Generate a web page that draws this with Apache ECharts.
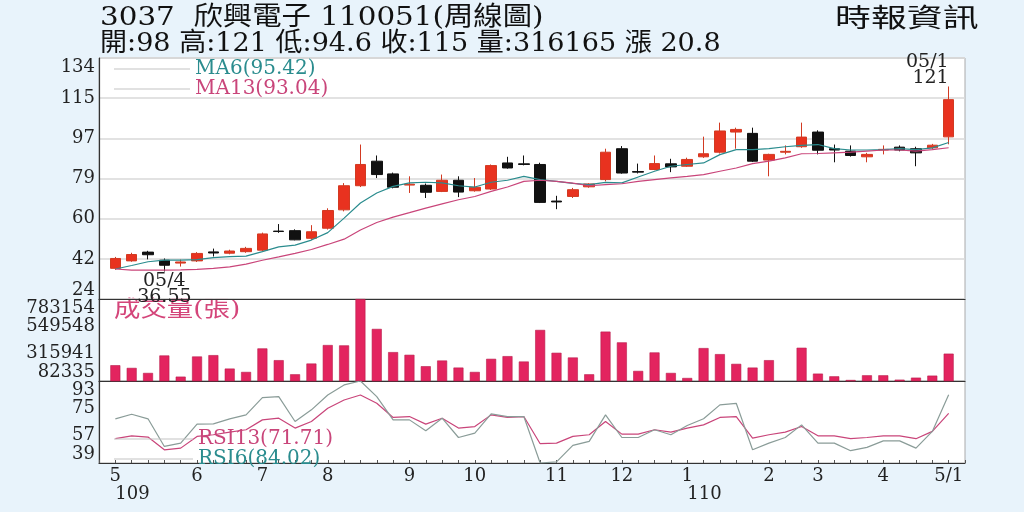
<!DOCTYPE html>
<html>
<head>
<meta charset="utf-8">
<script src="https://cdn.jsdelivr.net/npm/echarts@6/dist/echarts.min.js"></script>
<style>
html,body{margin:0;padding:0;background:#e8f3fb;}
#c{width:1024px;height:512px;}
</style>
</head>
<body>
<div id="c"></div>
<script>
// ---- data ----
const weeks = ['04/27','05/04','05/11','05/18','05/25','06/01','06/08','06/15','06/22','06/29',
  '07/06','07/13','07/20','07/27','08/03','08/10','08/17','08/24','08/31','09/07',
  '09/14','09/21','09/28','10/05','10/12','10/19','10/26','11/02','11/09','11/16',
  '11/23','11/30','12/07','12/14','12/21','12/28','01/04','01/11','01/18','01/25',
  '02/01','02/15','02/22','03/01','03/08','03/15','03/22','03/29','04/05','04/12',
  '04/19','04/26'];
const opens = [38.0,41.4,45.4,41.7,40.4,41.4,45.5,44.9,45.6,46.3,
  55.0,55.2,51.7,56.3,64.7,75.7,86.9,81.1,76.0,75.9,
  73.1,78.2,73.4,74.2,86.1,85.7,85.4,68.7,70.8,75.2,
  78.5,92.6,82.2,83.1,85.7,84.6,88.9,91.0,100.2,99.6,
  87.4,91.0,93.5,100.2,92.6,91.5,88.9,92.0,93.3,92.6,
  93.0,98];
const closes = [42.5,44.3,44.2,39.4,40.9,44.8,45.0,45.9,47.1,53.7,
  54.8,51.0,54.7,64.4,75.7,85.4,80.8,75.0,76.4,72.7,
  78.2,72.8,75.0,84.9,83.8,85.4,68.1,68.3,73.9,76.5,
  91.0,81.5,81.9,85.8,84.3,87.7,90.3,100.7,101.4,86.9,
  90.0,91.4,97.9,91.9,92.0,89.5,90.0,92.3,92.0,90.7,
  94.2,115];
const lows = [37.3,41.0,42.1,36.55,38.8,40.9,43.4,44.4,45.1,45.8,
  54.2,50.8,51.0,55.7,64.0,75.1,79.2,74.5,72.4,70.1,
  72.8,70.5,73.0,73.8,83.5,85.0,67.8,65.0,70.1,74.8,
  77.7,81.2,81.3,82.8,81.9,84.3,88.4,90.4,92.6,86.5,
  80.0,90.0,93.0,90.0,86.4,89.0,86.4,90.0,91.4,84.6,
  92.4,94.6];
const highs = [43.2,45.1,46.0,42.5,42.0,45.4,47.0,46.5,47.8,54.3,
  58.2,55.8,57.7,65.4,76.9,94.5,89.5,81.7,80.0,76.7,
  80.8,80.0,79.2,85.4,88.9,89.5,86.2,71.1,74.7,76.8,
  92.6,93.8,85.8,89.5,88.0,88.5,98.1,104.5,102.2,102.2,
  90.3,94.1,104.5,101.0,94.5,94.1,90.7,94.1,94.1,93.5,
  94.8,121];
const ma6 = [37.7,39.3,41.0,41.7,41.7,42.0,42.9,43.3,43.6,45.6,
  47.8,48.6,50.9,54.3,60.9,67.8,72.4,75.4,77.0,77.3,
  77.0,75.7,75.1,77.3,78.2,80.0,78.5,77.7,76.8,76.2,
  77.2,77.0,79.7,82.3,84.6,85.4,86.1,89.9,92.2,92.2,
  92.6,93.5,94.1,94.5,92.6,92.0,92.0,92.2,92.6,92.2,
  93.0,95.42];
const ma13 = [37.7,37.2,37.2,37.2,37.3,37.5,38.0,38.7,39.9,41.7,
  43.2,44.8,46.6,48.9,51.3,55.5,58.9,61.4,63.4,65.5,
  67.4,69.3,70.8,73.1,75.1,77.7,78.2,77.7,76.9,75.7,
  76.2,76.6,77.7,78.5,79.3,80.0,80.8,82.3,83.8,85.8,
  86.9,88.4,90.3,90.4,90.7,91.0,91.5,92.0,92.0,91.5,
  92.2,93.04];
const volumes = [217300,194300,151300,300600,119700,292000,303500,188600,159900,360900,
  260400,139800,231700,389700,386800,783154,527500,329300,306400,208700,
  257500,197200,159900,271900,294900,248900,518900,323600,283400,139800,
  504600,412600,168500,326500,151300,108200,363800,312100,228800,197200,
  260400,84500,366700,145500,122500,91000,131200,131200,93800,111000,
  128300,316165];
const rsi6 = [68.1,71.1,68.1,49.9,52.1,64.6,64.8,68.1,70.7,82.1,
  82.7,66.3,74.0,83.8,90.4,93.0,82.7,67.4,67.4,60.2,
  68.5,55.8,58.7,71.4,69.6,69.6,39.0,39.7,50.6,53.2,
  70.7,55.8,55.8,60.9,57.6,63.7,68.1,77.3,78.3,47.7,
  52.1,55.8,64.1,52.1,52.1,47.1,49.3,53.6,53.6,48.8,
  59.8,84.02];
const rsi13 = [55.0,56.9,56.1,47.7,48.8,56.5,57.6,59.3,60.9,67.4,
  68.5,62.0,66.3,75.1,80.5,83.8,78.3,69.0,69.6,64.6,
  68.5,62.0,63.0,70.7,69.0,69.6,51.7,52.1,56.5,57.6,
  66.3,58.0,58.0,60.9,59.3,62.0,64.1,69.0,69.6,55.4,
  57.6,59.3,63.0,56.9,56.9,55.0,55.8,56.9,56.9,55.0,
  59.8,71.71];

const priceTicks = ['24','42','60','79','97','115','134'];
const volTicks = ['82335','315941','549548','783154'];
const rsiTicks = ['39','57','75','93'];
const monthTickIdx = [0,5,9,13,18,22,27,31,35,40,43,47,51];
const monthTickText = ['5','6','7','8','9','10','11','12','1','2','3','4','5/1'];
const yearTickIdx = [0,35];
const yearTickText = ['109','110'];

const stockTitle = '3037  欣興電子 110051(周線圖)';
const source = '時報資訊';
const volTitle = '成交量(張)';
const changeVal = '20.8';
const highMark = {idx: 51, date: '05/1'};
const lowMark = {idx: 3, date: '05/4'};

// ---- build ----
const FONT = "'DejaVu Serif','Noto Sans CJK TC',serif";
const last = weeks.length - 1;
const cats = [' '].concat(weeks).concat(['  ']);
const pad = a => ['-'].concat(a).concat(['-']);
const candleData = [['-','-','-','-']].concat(opens.map((o,i)=>[o,closes[i],lows[i],highs[i]])).concat([['-','-','-','-']]);
const header2 = '開:' + opens[last] + ' 高:' + highs[last] + ' 低:' + lows[last] + ' 收:' + closes[last] +
  ' 量:' + volumes[last] + ' 漲 ' + changeVal;

const G = {left: 99, right: 59};
function edgeFmt(ticks, min, max) {
  const step = (max - min) / (ticks.length - 1);
  return function (v) {
    const i = Math.round((v - min) / step);
    if (i === 0) return ticks[0] + '\n ';
    if (i === ticks.length - 1) return ' \n' + ticks[i];
    return ticks[i];
  };
}
const yLab = {fontFamily: FONT, fontSize: 18, color: '#222', lineHeight: 18, margin: 4,
  showMinLabel: true, showMaxLabel: true};
function yAxis(g, min, max, n, ticks, split) {
  return {
    type: 'value', gridIndex: g, min: min, max: max, interval: (max - min) / n,
    axisLine: {show: true, lineStyle: {color: '#333', width: 1.2}},
    axisTick: {show: false},
    splitLine: {show: split, lineStyle: {color: '#d8d8d8', width: 1.5}},
    axisLabel: Object.assign({formatter: edgeFmt(ticks, min, max)}, yLab)
  };
}
function xAxis(g, extra) {
  return Object.assign({
    type: 'category', gridIndex: g, data: cats, boundaryGap: false,
    axisLine: {show: true, onZero: false, lineStyle: {color: '#333', width: 1.2}},
    axisTick: {show: false}, axisLabel: {show: false}, splitLine: {show: false}
  }, extra || {});
}
function tickFmt(idxs, texts) {
  return function (v, i) {
    const k = idxs.indexOf(i - 1);
    return k >= 0 ? texts[k] : '';
  };
}
const legText = {fontFamily: FONT, fontSize: 20, lineHeight: 17};

const option = {
  backgroundColor: '#e8f3fb',
  animation: false,
  grid: [
    {left: G.left, right: G.right, top: 58, height: 241, show: true, backgroundColor: '#fff', borderColor: '#aaa'},
    {left: G.left, right: G.right, top: 299, height: 82, show: true, backgroundColor: '#fff', borderColor: '#aaa'},
    {left: G.left, right: G.right, top: 381, height: 82, show: true, backgroundColor: '#fff', borderColor: '#aaa'}
  ],
  xAxis: [
    xAxis(0), xAxis(1),
    xAxis(2, {
      axisTick: {show: true, interval: 0, inside: true, length: 3, lineStyle: {color: '#555'}},
      axisLabel: {show: true, interval: 0, formatter: tickFmt(monthTickIdx, monthTickText),
        fontFamily: FONT, fontSize: 18, color: '#222', margin: 4}
    }),
    xAxis(2, {
      position: 'bottom', offset: 18,
      axisLine: {show: false}, axisTick: {show: false},
      axisLabel: {show: true, interval: 0, align: 'left', formatter: tickFmt(yearTickIdx, yearTickText),
        fontFamily: FONT, fontSize: 18, color: '#222', margin: 4}
    })
  ],
  yAxis: [
    yAxis(0, 24, 134, 6, priceTicks, true),
    yAxis(1, 82335, 783154, 3, volTicks, false),
    yAxis(2, 39, 93, 3, rsiTicks, false)
  ],
  legend: [
    {orient: 'vertical', left: 114, top: 59, padding: 0, itemWidth: 76, itemHeight: 1, itemGap: 0, icon: 'rect',
      selectedMode: false, textStyle: legText,
      data: [
        {name: 'MA6(' + ma6[last] + ')', itemStyle: {color: '#c4c4c4'}, textStyle: {color: '#2a8c8e'}},
        {name: 'MA13(' + ma13[last] + ')', itemStyle: {color: '#c4c4c4'}, textStyle: {color: '#c9457a'}}
      ]},
    {orient: 'vertical', left: 114, top: 429, padding: 0, itemWidth: 79, itemHeight: 1, itemGap: 0, icon: 'rect',
      selectedMode: false, textStyle: legText,
      data: [
        {name: 'RSI13(' + rsi13[last] + ')', itemStyle: {color: '#c4c4c4'}, textStyle: {color: '#c9457a'}},
        {name: 'RSI6(' + rsi6[last] + ')', itemStyle: {color: '#c4c4c4'}, textStyle: {color: '#2a8c8e'}}
      ]}
  ],
  graphic: [
    {type: 'text', left: 100, top: 5, scaleX: 1.13, originX: 0, style: {text: stockTitle, font: '26px ' + FONT, fill: '#111'}},
    {type: 'text', left: 100, top: 31, scaleX: 1.04, originX: 0, style: {text: header2, font: '26px ' + FONT, fill: '#111'}},
    {type: 'text', left: 835, top: 7, scaleX: 1.38, originX: 0, style: {text: source, font: '26px ' + FONT, fill: '#111'}},
    {type: 'text', left: 114, top: 299, scaleX: 1.2, originX: 0, style: {text: volTitle, font: '22px ' + FONT, fill: '#d4457a'}}
  ],
  series: [
    {type: 'candlestick', xAxisIndex: 0, yAxisIndex: 0, data: candleData, barWidth: 11,
      itemStyle: {color: '#e8321f', color0: '#111', borderColor: '#d23a22', borderColor0: '#111', borderWidth: 1},
      markPoint: {
        symbol: 'circle', symbolSize: 1, itemStyle: {color: 'rgba(0,0,0,0)'},
        data: [
          {coord: [cats[highMark.idx + 1], highs[highMark.idx]],
            label: {show: true, position: 'top', distance: 0, align: 'right',
              formatter: highMark.date + '\n' + highs[highMark.idx],
              fontFamily: FONT, fontSize: 19, lineHeight: 16, color: '#222'}},
          {coord: [cats[lowMark.idx + 1], lows[lowMark.idx]],
            label: {show: true, position: 'bottom', distance: 1,
              formatter: lowMark.date + '\n' + lows[lowMark.idx],
              fontFamily: FONT, fontSize: 19, lineHeight: 16, color: '#222'}}
        ]
      }},
    {name: 'MA6(' + ma6[last] + ')', type: 'line', xAxisIndex: 0, yAxisIndex: 0, data: pad(ma6),
      symbol: 'none', lineStyle: {color: '#2a8c8e', width: 1.2}, itemStyle: {color: '#2a8c8e'}},
    {name: 'MA13(' + ma13[last] + ')', type: 'line', xAxisIndex: 0, yAxisIndex: 0, data: pad(ma13),
      symbol: 'none', lineStyle: {color: '#c9457a', width: 1.2}, itemStyle: {color: '#c9457a'}},
    {type: 'bar', xAxisIndex: 1, yAxisIndex: 1, data: pad(volumes), barWidth: 10,
      itemStyle: {color: '#e3245f', borderColor: '#b81d4c', borderWidth: 0.6}},
    {name: 'RSI13(' + rsi13[last] + ')', type: 'line', xAxisIndex: 2, yAxisIndex: 2, data: pad(rsi13),
      symbol: 'none', lineStyle: {color: '#c9457a', width: 1.2}, itemStyle: {color: '#c9457a'}},
    {name: 'RSI6(' + rsi6[last] + ')', type: 'line', xAxisIndex: 2, yAxisIndex: 2, data: pad(rsi6),
      symbol: 'none', lineStyle: {color: '#8a9c98', width: 1.2}, itemStyle: {color: '#8a9c98'}}
  ]
};
const chart = echarts.init(document.getElementById('c'), null, {renderer: 'canvas'});
chart.setOption(option);
</script>
</body>
</html>
